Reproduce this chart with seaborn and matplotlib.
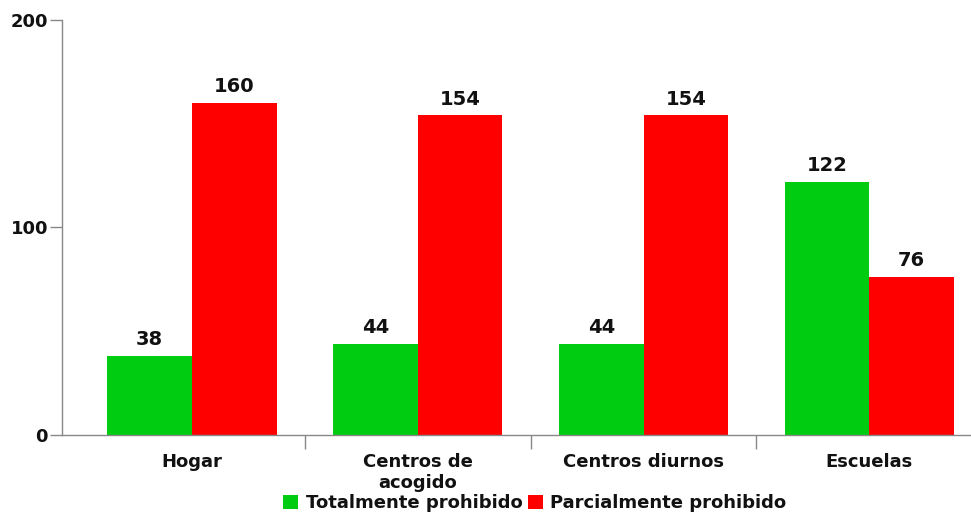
import pandas as pd
import numpy as np
import matplotlib
matplotlib.use('Agg')
import matplotlib.pyplot as plt
import seaborn as sns

# Data
categorias = ['Hogar', 'Centros de\nacogido', 'Centros diurnos', 'Escuelas']
totalmente = [38, 44, 44, 122]
parcialmente = [160, 154, 154, 76]
series = ['Totalmente prohibido', 'Parcialmente prohibido']
colores = ['#00cc11', '#ff0000']

df = pd.DataFrame({
    'Categoria': categorias * 2,
    'Valor': totalmente + parcialmente,
    'Serie': [series[0]] * 4 + [series[1]] * 4,
})

sns.set_style('white')
plt.rcParams['font.family'] = ['DejaVu Sans']
plt.rcParams['font.weight'] = 'bold'
plt.rcParams['text.color'] = '#111111'
plt.rcParams['xtick.color'] = '#888888'
plt.rcParams['ytick.color'] = '#888888'
plt.rcParams['xtick.labelcolor'] = '#111111'
plt.rcParams['ytick.labelcolor'] = '#111111'

fig = plt.figure(figsize=(9.71, 5.14), dpi=100)
ax = fig.add_axes([62 / 971, 1 - 435 / 514, 1 - 62 / 971, 415 / 514])

sns.barplot(data=df, x='Categoria', y='Valor', hue='Serie', palette=colores,
            width=0.75, saturation=1, linewidth=0, ax=ax, legend=True)

for cont in ax.containers:
    ax.bar_label(cont, padding=5, fontsize=14, fontweight='bold', color='#111111')

ax.set_xlim(-0.575, 3.45)
ax.set_ylim(0, 200)
ax.set_yticks([0, 100, 200])
ax.set_yticklabels(['0', '100', '200'], fontsize=13, fontweight='bold')
ax.set_xlabel('')
ax.set_ylabel('')

# category labels at centres, separator ticks between categories
ax.set_xticks([0.5, 1.5, 2.5])
ax.set_xticklabels([])
ax.tick_params(axis='x', which='major', bottom=True, length=10, width=1, direction='out')
ax.set_xticks(range(len(categorias)), minor=True)
ax.set_xticklabels(categorias, minor=True, fontsize=13, fontweight='bold')
ax.tick_params(axis='x', which='minor', bottom=True, length=0, pad=13)
ax.tick_params(axis='y', left=True, length=9, width=1, direction='out', pad=1)

for s in ['top', 'right']:
    ax.spines[s].set_visible(False)
for s in ['left', 'bottom']:
    ax.spines[s].set_color('#888888')
    ax.spines[s].set_linewidth(1)

leg = ax.legend(loc='upper center', bbox_to_anchor=(0.52, -0.125), ncol=2, frameon=False,
                fontsize=13, handlelength=0.85, handleheight=0.85, handletextpad=0.4,
                columnspacing=0.3, borderaxespad=0)
for t in leg.get_texts():
    t.set_fontweight('bold')
    t.set_color('#111111')

fig.savefig('out.png', dpi=100)
